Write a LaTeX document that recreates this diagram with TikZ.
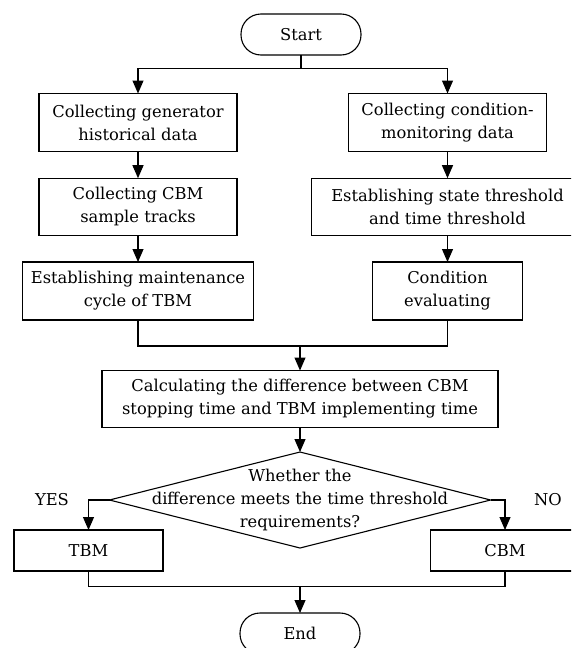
\documentclass[tikz,border=0pt]{standalone}
\usepackage{fontspec}
\setmainfont{DejaVu Serif}
\usetikzlibrary{arrows.meta,shapes.geometric}
\begin{document}
\begin{tikzpicture}[x=1pt,y=-1pt,
  every node/.style={font=\fontsize{16.3}{23}\selectfont},
  box/.style={draw,line width=1.1pt,align=center,inner sep=0pt,outer sep=0pt},
  term/.style={box,rounded corners=20pt,minimum width=120pt,minimum height=41pt},
  dec/.style={draw,line width=1.1pt,diamond,inner sep=0pt,outer sep=0pt,minimum width=381pt,minimum height=96pt},
  conn/.style={line width=1.1pt},
  arr/.style={conn,-{Triangle[length=13pt,width=11pt]}}]
\useasboundingbox (0,0) rectangle (571,648);
\clip (0,0) rectangle (571,648);
\node[term] (start) at (301,34.5) {Start};
\node[box,minimum width=198pt,minimum height=58pt] (a1) at (138,122.5) {Collecting generator\\historical data};
\node[box,minimum width=198pt,minimum height=58pt] (b1) at (447.5,122.5) {Collecting condition-\\monitoring data};
\node[box,minimum width=198pt,minimum height=57pt] (a2) at (138,206.7) {Collecting CBM\\sample tracks};
\node[box,minimum width=272pt,minimum height=57pt] (b2) at (447.5,206.7) {Establishing state threshold\\and time threshold};
\node[box,minimum width=231pt,minimum height=58pt] (a3) at (138,291) {Establishing maintenance\\cycle of TBM};
\node[box,minimum width=150pt,minimum height=58pt] (b3) at (447.5,291) {Condition\\evaluating};
\node[box,minimum width=396pt,minimum height=57pt] (calc) at (300,399) {Calculating the difference between CBM\\stopping time and TBM implementing time};
\node[dec] (d) at (300,500) {};
\node[align=center,inner sep=0pt] (dt) at (300,500) {Whether the\\difference meets the time threshold\\requirements?};
\node[box,minimum width=149pt,minimum height=41pt] (tbm) at (88.5,550.5) {TBM};
\node[box,minimum width=149pt,minimum height=41pt] (cbm) at (505,550.5) {CBM};
\node[term] (end) at (300,633.5) {End};
\node (yes) at (52,500) {YES};
\node (no) at (548,500) {NO};
\coordinate (br) at (301,68.5);
\coordinate (mg) at (300,346);
\coordinate (bm) at (300,586.7);
\draw[conn] (start.south) -- (br);
\draw[arr] (br) -| (a1.north);
\draw[arr] (br) -| (b1.north);
\draw[arr] (a1) -- (a2);
\draw[arr] (a2) -- (a3);
\draw[arr] (b1) -- (b2);
\draw[arr] (b2) -- (b3);
\draw[conn] (a3.south) |- (mg);
\draw[conn] (b3.south) |- (mg);
\draw[arr] (mg) -- (calc.north);
\draw[arr] (calc) -- (d);
\draw[arr] (d.west) -| (tbm.north);
\draw[arr] (d.east) -| (cbm.north);
\draw[conn] (tbm.south) |- (bm);
\draw[conn] (cbm.south) |- (bm);
\draw[arr] (bm) -- (end.north);
\end{tikzpicture}
\end{document}
